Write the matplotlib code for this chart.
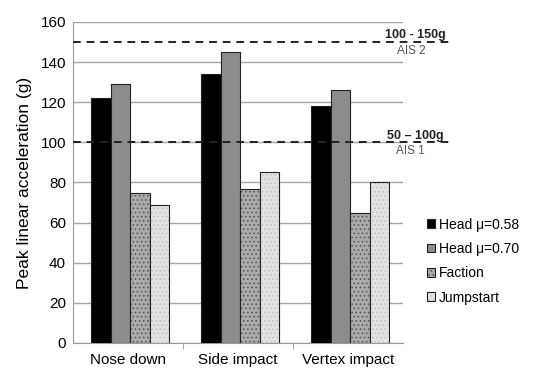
import numpy as np
import matplotlib
matplotlib.use("Agg")
import matplotlib.pyplot as plt

categories = ["Nose down", "Side impact", "Vertex impact"]
series = ["Head \u03bc=0.58", "Head \u03bc=0.70", "Faction", "Jumpstart"]
head_058 = [122, 134, 118]
head_070 = [129, 145, 126]
faction = [75, 77, 65]
jumpstart = [69, 85, 80]
thresholds = [150, 100]
threshold_ranges = ["100 - 150g", "50 \u2013 100g"]
threshold_ais = ["AIS 2", "AIS 1"]

plt.rcParams['font.family'] = ['Liberation Sans', 'DejaVu Sans']
plt.rcParams['hatch.linewidth'] = 0.6

fig = plt.figure(figsize=(5.33, 3.79), dpi=100)
ax = fig.add_axes([0.137, 0.095, 0.619, 0.847])

x = np.arange(len(categories))
w = 0.177
colors = ["#000000", "#8c8c8c", "#aaaaaa", "#e2e2e2"]
hatches = [None, None, "....", "...."]
hatch_cols = ["#000000", "#000000", "#555555", "#c0c0c0"]
values = [head_058, head_070, faction, jumpstart]
for i, (vals, name) in enumerate(zip(values, series)):
    bars = ax.bar(x + (i - 1.5) * w + 0.02, vals, w, color=colors[i], edgecolor="#222222",
                  linewidth=0.8, label=name, zorder=3)
    if hatches[i]:
        for b in bars:
            b.set_hatch(hatches[i])
            b._hatch_color = matplotlib.colors.to_rgba(hatch_cols[i])

ax.set_xlim(-0.5, 2.5)
ax.set_ylim(0, 160)
ax.set_yticks(range(0, 161, 20))
ax.set_xticks(x)
ax.set_xticklabels(categories, fontsize=11)
ax.tick_params(axis="y", labelsize=11, length=0, pad=5)
ax.tick_params(axis="x", length=0, pad=7)
ax.set_xticks([0.5, 1.5], minor=True)
ax.tick_params(axis="x", which="minor", length=4, color="#999999", direction="out")
ax.grid(axis="y", color="#a6a6a6", linewidth=1.0, zorder=0)
for s in ["top", "right"]:
    ax.spines[s].set_visible(False)
ax.spines["left"].set_color("#999999")
ax.spines["bottom"].set_color("#999999")
ax.set_ylabel("Peak linear acceleration (g)", fontsize=12.5, labelpad=6)

for yv, rng, ais in zip(thresholds, threshold_ranges, threshold_ais):
    ax.plot([0, 1.142], [yv, yv], transform=ax.get_yaxis_transform(), color="#222222",
            linestyle=(0, (4, 3)), linewidth=1.4, clip_on=False, zorder=4)
    ax.text(1.038, yv + 0.3, rng, transform=ax.get_yaxis_transform(), ha="center", va="bottom",
            fontsize=9, fontweight="bold", color="#222222")
    ax.text(1.024, yv - 1.3, ais, transform=ax.get_yaxis_transform(), ha="center", va="top",
            fontsize=8.5, color="#555555")

ax.legend(loc="center left", bbox_to_anchor=(1.072, 0.255), frameon=False, fontsize=10,
          handlelength=0.6, handleheight=0.6, handletextpad=0.3, labelspacing=0.75,
          borderpad=0, borderaxespad=0)

fig.savefig("out.png", dpi=100)
